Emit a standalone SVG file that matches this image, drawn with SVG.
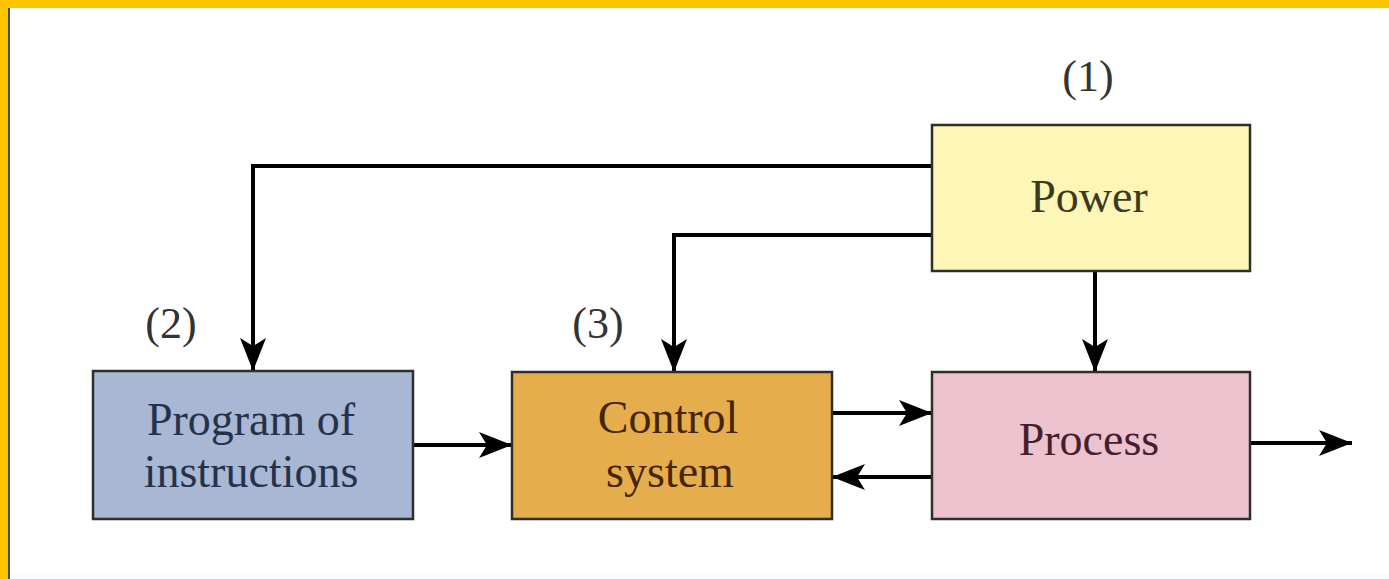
<svg xmlns="http://www.w3.org/2000/svg" width="1389" height="579" viewBox="0 0 1389 579">
  <style>
    .box { stroke: #2e2e2a; stroke-width: 2.5; }
    .label { font-family: "Liberation Serif", "Times New Roman", serif; font-size: 46px; text-anchor: middle; }
    .num { font-family: "Liberation Serif", "Times New Roman", serif; font-size: 44px; fill: #333; text-anchor: middle; }
    .wire { fill: none; stroke: #000; stroke-width: 4; marker-end: url(#head); }
  </style>
  <defs>
    <marker id="head" markerUnits="userSpaceOnUse" viewBox="-36 -15 38 30" refX="0" refY="0" markerWidth="38" markerHeight="30" orient="auto">
      <path d="M0,0 L-33,-13 L-25,0 L-33,13 Z" fill="#000"/>
    </marker>
  </defs>

  <!-- page background and frame -->
  <rect x="0" y="0" width="1389" height="579" fill="#ffffff"/>
  <rect x="0" y="0" width="1389" height="8" fill="#ffc300"/>
  <rect x="0" y="0" width="8" height="579" fill="#ffc300"/>
  <rect x="8" y="8" width="2" height="571" fill="#3c5566"/>
  <rect x="10" y="574" width="1379" height="5" fill="#f8fbfc"/>

  <!-- connectors -->
  <g id="connectors">
    <path class="wire" d="M932,166 H253 V371"/>
    <path class="wire" d="M932,235 H674 V372"/>
    <path class="wire" d="M1095,271 V372"/>
    <path class="wire" d="M413,445 H512"/>
    <path class="wire" d="M832,413 H932"/>
    <path class="wire" d="M932,477 H832"/>
    <path class="wire" d="M1250,443 H1352"/>
  </g>

  <g id="power">
    <rect class="box" x="932" y="125" width="318" height="146" fill="#fdf6b6"/>
    <text class="label" x="1089" y="212" fill="#3a3a22">Power</text>
    <text class="num" x="1088" y="91">(1)</text>
  </g>

  <g id="program">
    <rect class="box" x="93" y="371" width="320" height="148" fill="#a7b7d4"/>
    <text class="label" x="251" y="435" fill="#26324a">Program of</text>
    <text class="label" x="251" y="487" fill="#26324a">instructions</text>
    <text class="num" x="171" y="338">(2)</text>
  </g>

  <g id="control">
    <rect class="box" x="512" y="372" width="320" height="147" fill="#e5ad4b"/>
    <text class="label" x="668" y="433" fill="#452600">Control</text>
    <text class="label" x="670" y="487" fill="#452600">system</text>
    <text class="num" x="598" y="338">(3)</text>
  </g>

  <g id="process">
    <rect class="box" x="932" y="372" width="318" height="147" fill="#ecc2cf"/>
    <text class="label" x="1089" y="455" fill="#45202c">Process</text>
  </g>
</svg>
